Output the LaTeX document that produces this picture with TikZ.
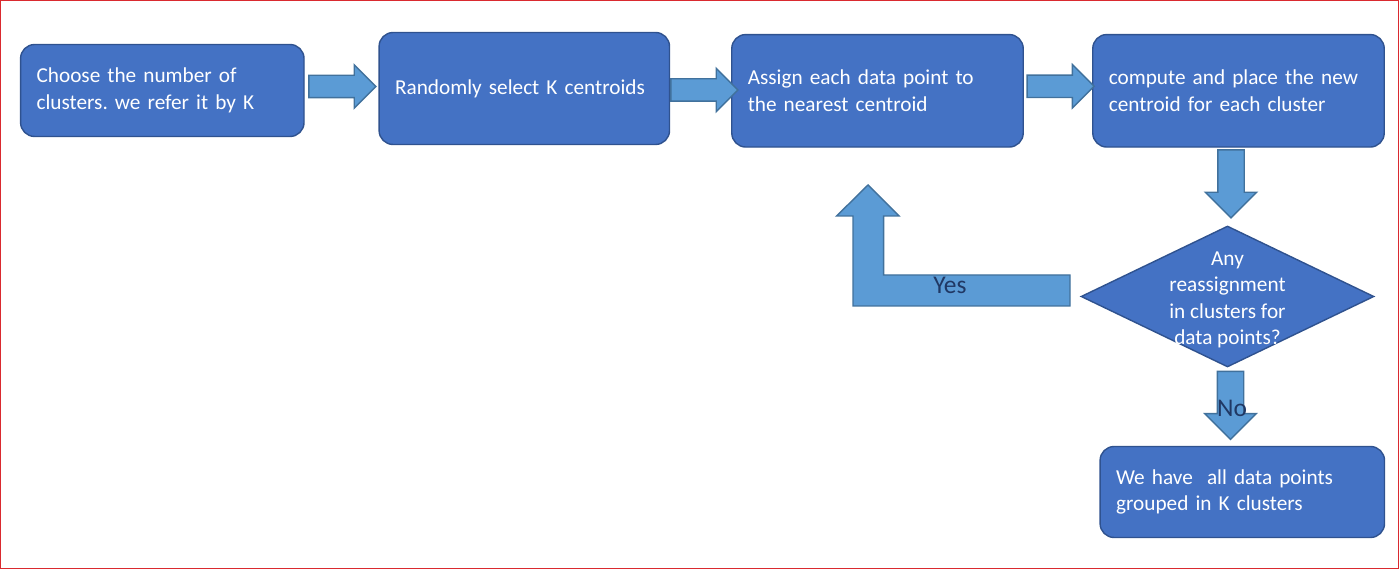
\documentclass[tikz,border=0pt]{standalone}
\usepackage{fontspec}
\setmainfont{Carlito}
\frenchspacing
\usetikzlibrary{shapes.geometric,shapes.arrows,positioning}

\definecolor{boxblue}{HTML}{4472C4}
\definecolor{boxline}{HTML}{2F528F}
\definecolor{arrblue}{HTML}{5B9BD5}
\definecolor{arrline}{HTML}{41719C}
\definecolor{lblblue}{HTML}{203864}
\definecolor{framered}{HTML}{DA2A2F}

\begin{document}
\begin{tikzpicture}[x=0.02cm, y=-0.02cm,
	box/.style	= {draw=boxline, fill=boxblue, line width=0.8pt, rounded corners=0.28cm, text=white, align=left, inner xsep=0.32cm, font=\fontsize{12.1pt}{15.3pt}\selectfont},
	harr/.style	= {single arrow, draw=arrline, fill=arrblue, line width=0.8pt, inner sep=0.21cm, minimum height=1.34cm, single arrow head extend=0.21cm, anchor=tail},
	varr/.style	= {harr, shape border rotate=270, inner sep=0.25cm, minimum height=1.36cm, single arrow head extend=0.25cm},
	lbl/.style	= {text=lblblue, font=\fontsize{14.5pt}{17pt}\selectfont}]
	\useasboundingbox (0,0) rectangle (1400,570);
	\draw [framered, line width=0.85pt] (0.75,0.75) rectangle (1398.5,568.5);

	\node	(B1)	[box, minimum width=5.67cm, minimum height=1.84cm, text width=5.03cm]	at (162.3,90.5)		{Choose the number of\\clusters. we refer it by K};
	\node	(B2)	[box, minimum width=5.81cm, minimum height=2.24cm, text width=5.17cm]	at (524.3,88.5)		{Randomly select K centroids};
	\node	(B3)	[box, minimum width=5.83cm, minimum height=2.25cm, text width=5.19cm]	at (877.5,90.8)		{Assign each data point to\\the nearest centroid};
	\node	(B4)	[box, minimum width=5.83cm, minimum height=2.25cm, text width=5.19cm]	at (1238.5,90.8)	{compute and place the new\\centroid for each cluster};
	\node	(D)	[diamond, draw=boxline, fill=boxblue, line width=0.8pt, minimum width=5.86cm, minimum height=2.82cm, inner sep=0pt]	at (1227.5,296.5)	{};
	\node	(Dtxt)	[text=white, align=center, font=\fontsize{12.1pt}{15pt}\selectfont]	at (1227.5,300)	{Any\\reassignment\\in clusters for\\data points?};
	\node	(B5)	[box, minimum width=5.69cm, minimum height=1.82cm, text width=5.05cm]	at (1242.3,492)	{We have\ \ all data points\\grouped in K clusters};

	\node	(a1)	[harr, xshift=0.07cm, yshift=0.08cm]	at (B1.east)		{};
	\node	(a2)	[harr, yshift=-0.03cm]			at (B2.east)		{};
	\node	(a3)	[harr, xshift=0.05cm, yshift=0.09cm]	at (B3.east)		{};
	\node	(a4)	[varr, xshift=0.07cm, yshift=-0.03cm]	at (B4.south -| D.north)	{};
	\node	(a5)	[varr, xshift=0.06cm, yshift=-0.06cm]	at (D.south)		{};

	% loop back to the assign step
	\draw [draw=arrline, fill=arrblue, line width=0.8pt]
		(1070,275) -- (883.6,275) -- (883.6,216) -- (899,216) -- (868,185)
		-- (836.6,216) -- (853,216) -- (853,306) -- (1070,306) -- cycle;

	\node	(yes)	[lbl]	at (950,285)	{Yes};
	\node	(no)	[lbl]	at (1232,408)	{No};
\end{tikzpicture}
\end{document}
